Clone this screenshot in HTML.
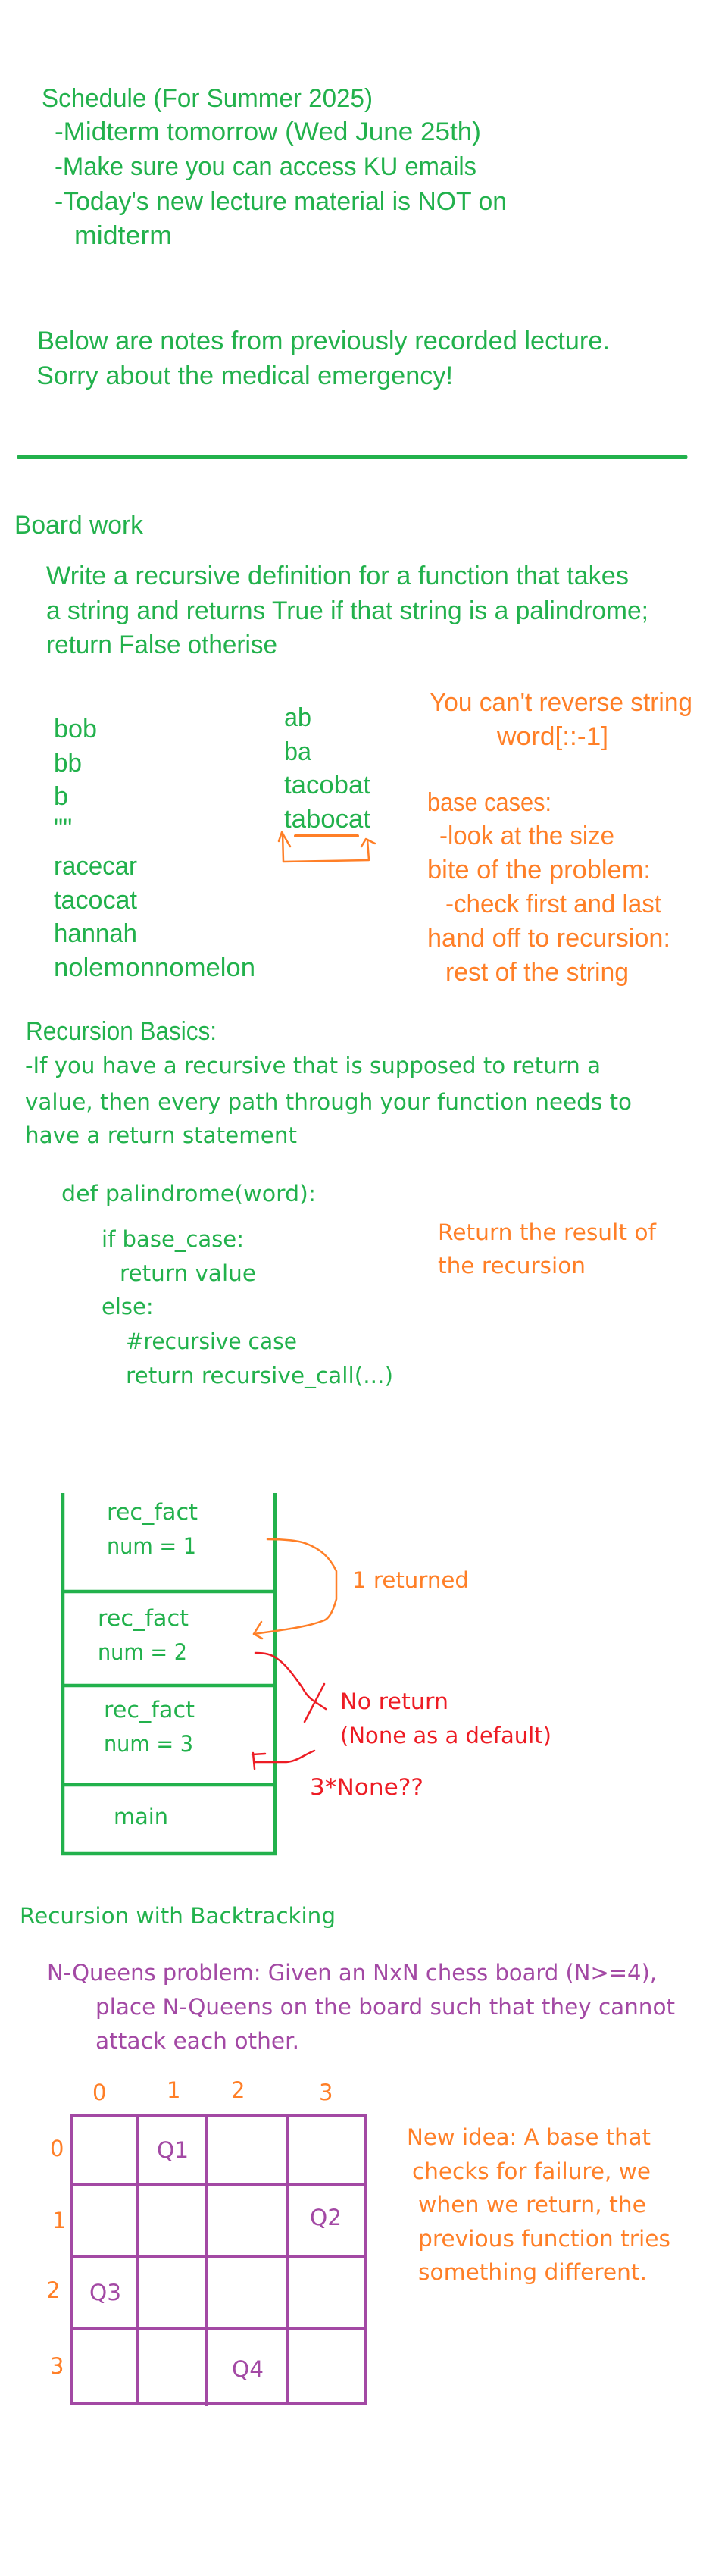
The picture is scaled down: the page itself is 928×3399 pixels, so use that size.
<!DOCTYPE html>
<html><head><meta charset="utf-8"><style>
html,body{margin:0;padding:0;background:#fff;}
svg{display:block;}
.c{font-family:"Liberation Sans",sans-serif;font-size:34px;}
.v{font-family:"DejaVu Sans",sans-serif;font-size:29px;}
.g{fill:#22b14c}.o{fill:#ff7f27}.r{fill:#ed1c24}.p{fill:#a349a4}
</style></head><body>
<svg width="928" height="3399" viewBox="0 0 928 3399" xmlns="http://www.w3.org/2000/svg">
<g class="c g">
<text x="55" y="141" textLength="437" lengthAdjust="spacingAndGlyphs">Schedule (For Summer 2025)</text>
<text x="72" y="185" textLength="563" lengthAdjust="spacingAndGlyphs">-Midterm tomorrow (Wed June 25th)</text>
<text x="72" y="231" textLength="557" lengthAdjust="spacingAndGlyphs">-Make sure you can access KU emails</text>
<text x="72" y="277" textLength="597" lengthAdjust="spacingAndGlyphs">-Today's new lecture material is NOT on</text>
<text x="98" y="322" textLength="129" lengthAdjust="spacingAndGlyphs">midterm</text>
<text x="49" y="461" textLength="756" lengthAdjust="spacingAndGlyphs">Below are notes from previously recorded lecture.</text>
<text x="48" y="507" textLength="550" lengthAdjust="spacingAndGlyphs">Sorry about the medical emergency!</text>
<text x="19" y="704" textLength="170" lengthAdjust="spacingAndGlyphs">Board work</text>
<text x="61" y="771" textLength="769" lengthAdjust="spacingAndGlyphs">Write a recursive definition for a function that takes</text>
<text x="61" y="817" textLength="795" lengthAdjust="spacingAndGlyphs">a string and returns True if that string is a palindrome;</text>
<text x="61" y="862" textLength="305" lengthAdjust="spacingAndGlyphs">return False otherise</text>
<text x="71" y="973" textLength="57" lengthAdjust="spacingAndGlyphs">bob</text>
<text x="71" y="1018" textLength="37" lengthAdjust="spacingAndGlyphs">bb</text>
<text x="71" y="1062">b</text>
<text x="71" y="1104">""</text>
<text x="71" y="1154" textLength="110" lengthAdjust="spacingAndGlyphs">racecar</text>
<text x="71" y="1199" textLength="110" lengthAdjust="spacingAndGlyphs">tacocat</text>
<text x="71" y="1243" textLength="110" lengthAdjust="spacingAndGlyphs">hannah</text>
<text x="71" y="1288" textLength="266" lengthAdjust="spacingAndGlyphs">nolemonnomelon</text>
<text x="375" y="958" textLength="36" lengthAdjust="spacingAndGlyphs">ab</text>
<text x="375" y="1003" textLength="36" lengthAdjust="spacingAndGlyphs">ba</text>
<text x="375" y="1047" textLength="114" lengthAdjust="spacingAndGlyphs">tacobat</text>
<text x="375" y="1092" textLength="114" lengthAdjust="spacingAndGlyphs">tabocat</text>
<text x="34" y="1372" textLength="252" lengthAdjust="spacingAndGlyphs">Recursion Basics:</text>
</g>
<g class="c o">
<text x="567" y="938" textLength="347" lengthAdjust="spacingAndGlyphs">You can't reverse string</text>
<text x="656" y="983" textLength="147" lengthAdjust="spacingAndGlyphs">word[::-1]</text>
<text x="564" y="1070" textLength="164" lengthAdjust="spacingAndGlyphs">base cases:</text>
<text x="580" y="1114" textLength="231" lengthAdjust="spacingAndGlyphs">-look at the size</text>
<text x="564" y="1159" textLength="295" lengthAdjust="spacingAndGlyphs">bite of the problem:</text>
<text x="588" y="1204" textLength="285" lengthAdjust="spacingAndGlyphs">-check first and last</text>
<text x="564" y="1249" textLength="321" lengthAdjust="spacingAndGlyphs">hand off to recursion:</text>
<text x="588" y="1294" textLength="242" lengthAdjust="spacingAndGlyphs">rest of the string</text>
</g>
<g fill="none" stroke="#ff7f27" stroke-linecap="round" stroke-linejoin="round">
<line x1="390" y1="1103" x2="472" y2="1103" stroke-width="4"/>
<polyline points="373,1099 374,1137 487,1135 485,1108" stroke-width="2.5"/>
<polyline points="368,1110 372,1098 383,1117" stroke-width="2.5"/>
<polyline points="477,1117 483,1107 495,1113" stroke-width="2.5"/>
</g>
<g class="v g">
<text x="33" y="1416" textLength="760" lengthAdjust="spacingAndGlyphs">-If you have a recursive that is supposed to return a</text>
<text x="33" y="1464" textLength="801" lengthAdjust="spacingAndGlyphs">value, then every path through your function needs to</text>
<text x="33" y="1508" textLength="359" lengthAdjust="spacingAndGlyphs">have a return statement</text>
<text x="81" y="1585" textLength="336" lengthAdjust="spacingAndGlyphs">def palindrome(word):</text>
<text x="134" y="1645" textLength="188" lengthAdjust="spacingAndGlyphs">if base_case:</text>
<text x="158" y="1690" textLength="180" lengthAdjust="spacingAndGlyphs">return value</text>
<text x="134" y="1734">else:</text>
<text x="166" y="1780" textLength="226" lengthAdjust="spacingAndGlyphs">#recursive case</text>
<text x="166" y="1825" textLength="353" lengthAdjust="spacingAndGlyphs">return recursive_call(...)</text>
<text x="141" y="2005" textLength="120" lengthAdjust="spacingAndGlyphs">rec_fact</text>
<text x="141" y="2050" textLength="118" lengthAdjust="spacingAndGlyphs">num = 1</text>
<text x="129" y="2145" textLength="120" lengthAdjust="spacingAndGlyphs">rec_fact</text>
<text x="129" y="2190" textLength="118" lengthAdjust="spacingAndGlyphs">num = 2</text>
<text x="137" y="2266" textLength="120" lengthAdjust="spacingAndGlyphs">rec_fact</text>
<text x="137" y="2311" textLength="118" lengthAdjust="spacingAndGlyphs">num = 3</text>
<text x="150" y="2407" textLength="72" lengthAdjust="spacingAndGlyphs">main</text>
<text x="26" y="2538" textLength="417" lengthAdjust="spacingAndGlyphs">Recursion with Backtracking</text>
</g>
<g class="v o">
<text x="578" y="1636" textLength="288" lengthAdjust="spacingAndGlyphs">Return the result of</text>
<text x="578" y="1680" textLength="195" lengthAdjust="spacingAndGlyphs">the recursion</text>
<text x="465" y="2095" textLength="154" lengthAdjust="spacingAndGlyphs">1 returned</text>
</g>
<g class="v r">
<text x="449" y="2255" textLength="143" lengthAdjust="spacingAndGlyphs">No return</text>
<text x="449" y="2300" textLength="279" lengthAdjust="spacingAndGlyphs">(None as a default)</text>
<text x="409" y="2368" textLength="150" lengthAdjust="spacingAndGlyphs">3*None??</text>
</g>
<g stroke="#22b14c" stroke-width="4.5" fill="none">
<line x1="83" y1="1970" x2="83" y2="2448"/>
<line x1="363" y1="1970" x2="363" y2="2448"/>
<line x1="81" y1="2100" x2="365" y2="2100"/>
<line x1="81" y1="2224" x2="365" y2="2224"/>
<line x1="81" y1="2355" x2="365" y2="2355"/>
<line x1="81" y1="2446" x2="365" y2="2446"/>
</g>
<g fill="none" stroke="#ff7f27" stroke-width="2.5" stroke-linecap="round" stroke-linejoin="round">
<path d="M353,2031 C380,2031 395,2033 405,2037 C425,2045 435,2055 444,2073 L444,2110 C440,2125 435,2135 428,2138 C415,2143 405,2145 395,2147 C380,2150 365,2152 335,2156"/>
<polyline points="345,2140 335,2156 346,2162"/>
</g>
<g fill="none" stroke="#ed1c24" stroke-width="2.5" stroke-linecap="round" stroke-linejoin="round">
<path d="M337,2181 C350,2181 358,2183 365,2188 C380,2198 390,2215 398,2225 C402,2232 405,2238 415,2245 L430,2255"/>
<line x1="428" y1="2222" x2="402" y2="2272"/>
<path d="M415,2310 C400,2316 392,2324 378,2325 L336,2325"/>
<path d="M334,2313 L336,2334 M333,2315 L350,2314"/>
</g>
<g class="v p">
<text x="62" y="2613" textLength="805" lengthAdjust="spacingAndGlyphs">N-Queens problem: Given an NxN chess board (N&gt;=4),</text>
<text x="126" y="2658" textLength="765" lengthAdjust="spacingAndGlyphs">place N-Queens on the board such that they cannot</text>
<text x="126" y="2703" textLength="269" lengthAdjust="spacingAndGlyphs">attack each other.</text>
<text x="207" y="2847" textLength="42" lengthAdjust="spacingAndGlyphs">Q1</text>
<text x="409" y="2936" textLength="42" lengthAdjust="spacingAndGlyphs">Q2</text>
<text x="118" y="3035" textLength="42" lengthAdjust="spacingAndGlyphs">Q3</text>
<text x="306" y="3136" textLength="42" lengthAdjust="spacingAndGlyphs">Q4</text>
</g>
<g class="v o">
<text x="122" y="2771">0</text>
<text x="220" y="2768">1</text>
<text x="305" y="2768">2</text>
<text x="421" y="2771">3</text>
<text x="66" y="2845">0</text>
<text x="69" y="2940">1</text>
<text x="61" y="3032">2</text>
<text x="66" y="3132">3</text>
<text x="537" y="2830" textLength="322" lengthAdjust="spacingAndGlyphs">New idea: A base that</text>
<text x="544" y="2875" textLength="315" lengthAdjust="spacingAndGlyphs">checks for failure, we</text>
<text x="552" y="2919" textLength="301" lengthAdjust="spacingAndGlyphs">when we return, the</text>
<text x="552" y="2964" textLength="333" lengthAdjust="spacingAndGlyphs">previous function tries</text>
<text x="552" y="3008" textLength="302" lengthAdjust="spacingAndGlyphs">something different.</text>
</g>
<g stroke="#a349a4" stroke-width="4" fill="none">
<rect x="95" y="2792" width="387" height="380"/>
<line x1="182" y1="2792" x2="182" y2="3172"/>
<line x1="273" y1="2792" x2="273" y2="3175"/>
<line x1="379" y1="2792" x2="379" y2="3172"/>
<line x1="95" y1="2882" x2="482" y2="2882"/>
<line x1="95" y1="2978" x2="482" y2="2978"/>
<line x1="95" y1="3072" x2="482" y2="3072"/>
</g>
<line x1="25" y1="603" x2="905" y2="603" stroke="#22b14c" stroke-width="5" stroke-linecap="round"/>
</svg>
</body></html>
